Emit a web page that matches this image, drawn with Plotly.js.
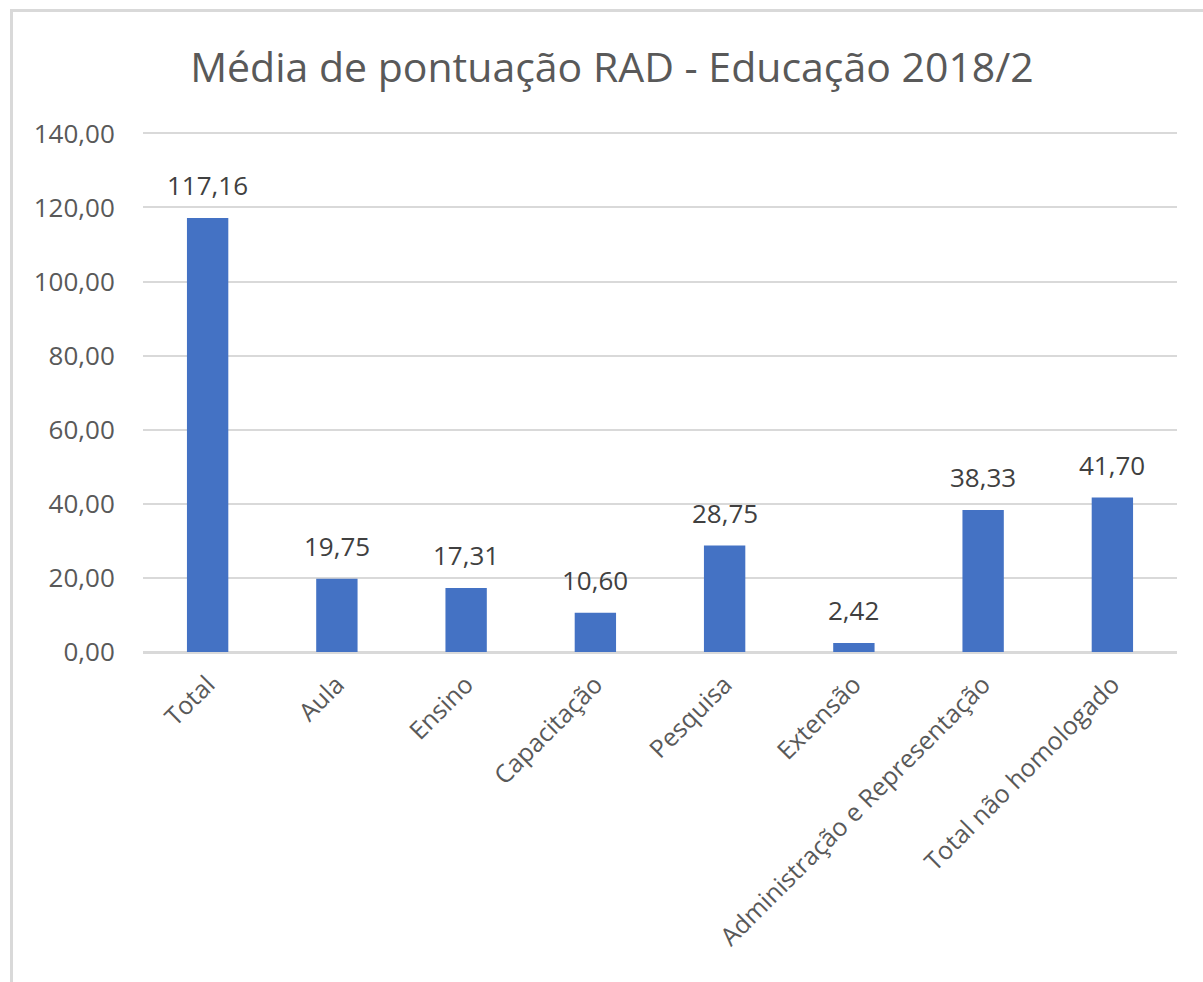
<!DOCTYPE html>
<html>
<head>
<meta charset="utf-8">
<script src="https://cdn.plot.ly/plotly-3.0.1.min.js"></script>
<style>
  html, body { margin: 0; padding: 0; background: #fff; }
  #wrap { position: relative; width: 1203px; height: 982px; overflow: hidden; }
  #frame { position: absolute; left: 10px; top: 9px; width: 1300px; height: 1100px;
           border-left: 3px solid #d9d9d9; border-top: 3px solid #d9d9d9; box-sizing: border-box; pointer-events: none; z-index: 5; }
  #chart { position: absolute; left: 0; top: 0; width: 1203px; height: 982px; }
</style>
</head>
<body>
<div id="wrap">
  <div id="chart"></div>
  <div id="frame"></div>
</div>
<script>
const categories = ["Total", "Aula", "Ensino", "Capacitação", "Pesquisa", "Extensão", "Administração e Representação", "Total não homologado"];
const values = [117.16, 19.75, 17.31, 10.60, 28.75, 2.42, 38.33, 41.70];
const yTicks = [0, 20, 40, 60, 80, 100, 120, 140];
const chartTitle = "Média de pontuação RAD - Educação 2018/2";

const fontFam = "'Open Sans', 'Noto Sans', sans-serif";
const fmt = v => v.toFixed(2).replace(".", ",");

const labelAnnotations = categories.map((c, i) => ({
  x: c, y: values[i], xref: "x", yref: "y",
  text: fmt(values[i]),
  showarrow: false,
  yanchor: "bottom",
  xanchor: "center",
  yshift: 13,
  font: { family: fontFam, size: 26, color: "#404040" }
}));

Plotly.newPlot("chart", [{
  type: "bar",
  x: categories,
  y: values,
  marker: { color: "#4472c4" },
  hoverinfo: "none"
}], {
  width: 1203,
  height: 982,
  separators: ",.",
  paper_bgcolor: "#ffffff",
  plot_bgcolor: "#ffffff",
  margin: { l: 143, r: 26, t: 126, b: 330 },
  bargap: 0.68,
  showlegend: false,
  annotations: labelAnnotations,
  title: {
    text: chartTitle,
    font: { family: fontFam, size: 41, color: "#595959" },
    x: 612 / 1203, xref: "container", xanchor: "center",
    y: 1 - 68 / 982, yref: "container", yanchor: "middle"
  },
  xaxis: {
    type: "category",
    tickangle: -45,
    tickfont: { family: fontFam, size: 25, color: "#595959" },
    showgrid: false,
    showline: true,
    linecolor: "#d9d9d9",
    linewidth: 2,
    ticks: "outside",
    ticklen: 6,
    tickcolor: "rgba(0,0,0,0)",
    automargin: false
  },
  yaxis: {
    range: [0, 142],
    tickvals: yTicks,
    tickformat: ".2f",
    tickfont: { family: fontFam, size: 26, color: "#595959" },
    showgrid: true,
    gridcolor: "#d9d9d9",
    gridwidth: 2,
    zeroline: true,
    zerolinecolor: "#d9d9d9",
    zerolinewidth: 2,
    showline: false,
    ticks: "outside",
    ticklen: 22,
    tickcolor: "rgba(0,0,0,0)",
    automargin: false
  }
}, { displayModeBar: false, staticPlot: true });
</script>
</body>
</html>
